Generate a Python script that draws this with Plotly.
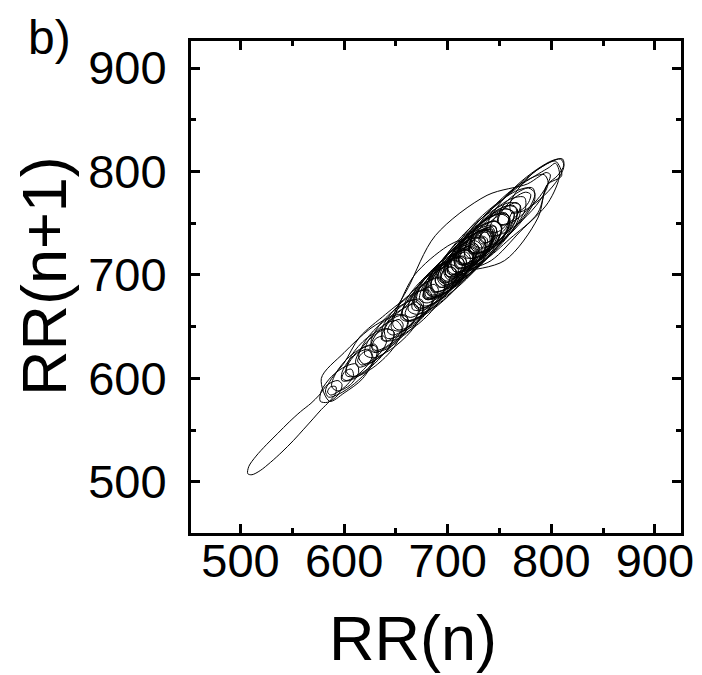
import plotly.graph_objects as go

# RR interval series (ms), read/estimated from the Poincare (lag) plot
rr = [
    705, 723, 735, 736, 725, 708, 690, 678, 677, 688,
    707, 726, 740, 742, 732, 714, 695, 682, 680, 690,
    709, 729, 744, 748, 740, 722, 702, 688, 684, 693,
    712, 734, 752, 760, 755, 738, 716, 698, 691, 697,
    716, 740, 760, 770, 767, 751, 729, 709, 700, 705,
    722, 746, 768, 782, 784, 773, 754, 734, 722, 723,
    737, 758, 779, 793, 797, 789, 772, 753, 740, 738,
    748, 766, 786, 802, 811, 812, 804, 789, 773, 762,
    760, 768, 783, 799, 809, 812, 806,
    796, 787, 760, 735, 714, 705,
    700, 702, 712, 724, 729, 724, 710, 694, 683, 681,
    689, 704, 719, 727, 724, 711, 694, 680, 673, 676,
    689, 706, 720, 725, 718, 702, 684, 671, 667, 673,
    690, 708, 718, 727, 730, 725, 716, 710, 712, 720,
    730, 736, 734, 727, 721, 722, 729, 739, 746, 747,
    741, 733, 730, 734, 743, 753, 759, 757, 749, 742,
    741, 747, 757, 766, 770, 767, 758, 750, 749, 755,
    765, 775, 780, 778, 770, 762, 760,
    756, 745, 735, 731, 735, 742, 744, 738, 727, 716,
    711, 714, 722, 726, 721, 710, 699, 693, 696, 704,
    708, 703, 692, 681, 676, 679, 687, 691, 686, 675,
    664, 659, 662, 670, 674, 669, 658, 647, 642, 645,
    653, 657, 652, 641, 631, 627, 630, 638, 641, 636,
    626, 617, 613, 617, 624, 627, 621, 611, 602, 598,
    601, 607, 609, 603, 594, 587, 584, 587, 592, 592,
    586, 578,
    570, 561, 551, 540, 529, 519, 511, 507, 508, 515,
    525, 536, 547, 558, 568, 576,
    584, 594, 598, 594, 584, 577, 578, 588, 602, 612,
    614, 606, 594, 588, 592, 605, 621, 631, 631, 621,
    608, 602, 607, 622, 639, 648, 645, 632, 619, 614,
    621, 637, 654, 662, 657, 642, 629, 626, 636, 654,
    670, 676, 668, 651, 638, 637, 649, 667, 682, 685,
    674, 657, 646, 648, 662,
    688, 738, 777, 788, 795, 799, 797, 789, 776, 762,
    751, 748, 752,
    765, 778, 784, 779, 765, 746, 728, 717, 717, 727,
    744, 762, 774, 775, 764, 745, 725, 711, 707, 714,
    731, 750, 764, 767, 757, 738, 717, 702, 697, 704,
    721, 741, 756, 760, 751, 732, 710, 694, 688, 694,
    711, 731, 747, 752, 744, 725, 703, 686, 679, 684,
    700, 720, 737, 743, 736, 718, 696, 678, 670, 674,
    690, 710, 727, 733, 727, 709, 688, 670, 662, 666,
    681, 701, 718, 724, 718, 701, 680, 663, 656, 660,
    676, 696, 712, 717, 709,
    712, 730, 752, 772, 788, 798, 804, 808, 797, 770,
    742, 714, 703, 698, 701,
    710, 722, 728, 724, 712, 697, 686, 684, 692, 706,
    719, 725, 719, 704, 688, 678, 678, 688, 703, 714,
    716, 707, 690, 675, 668, 671, 684, 699, 708, 705,
    691, 673, 660, 656, 663, 678, 692, 697, 690, 672,
    653, 641, 639, 648, 663, 675, 676, 664, 645, 628,
    620, 623, 636, 650, 656, 648, 630, 612, 602, 603,
    612, 624, 628, 618, 600, 586, 578, 600, 625, 648,
    662, 672, 690, 706, 714, 710, 700, 694, 697, 707,
    718, 722, 716, 705, 698, 700,
    712, 730, 752, 772, 790, 804, 810, 796, 787, 755,
    714, 703, 700,
    712, 726, 731, 724, 709, 695, 690, 697, 713, 729,
    736, 729, 713, 700, 696, 704, 721, 737, 744, 737,
    721, 707, 703, 711, 728, 745, 752, 746, 730, 715,
    710, 717, 734, 751, 759, 754, 738, 722, 716, 722,
    738, 755, 764, 760, 745, 729, 722, 727, 742, 758,
    767, 764, 750, 734, 726, 729, 742, 756, 764, 760,
    747, 731, 721, 721, 731, 745, 752, 748, 734, 718,
    708, 707, 716, 730, 738, 735, 721, 705, 694, 693,
    702, 716, 724, 721, 707, 690, 679, 679, 689, 703,
    710, 706, 692, 676, 666, 667, 678, 692, 698, 693,
    678, 663, 655, 658, 670, 683, 688, 681, 666, 652,
    647, 652, 668, 700, 728, 740, 744, 738, 725, 713,
    710, 717, 731, 743, 746, 738, 723, 710, 706, 714,
    729, 742, 745, 736, 720, 707, 703, 711, 726, 738,
    741, 733, 717, 704, 700,
    690, 676, 662, 650, 641, 636, 638, 646, 658, 668,
    672, 667, 655, 641, 630, 625, 628, 638, 651, 660,
    661, 652, 638, 624, 614, 611, 616, 628, 641, 648,
    645, 633, 618, 605, 598, 598, 606, 619, 630, 633,
    625, 610, 595, 585, 582, 588, 600, 615, 640, 662,
    680, 698, 712, 718, 714, 703, 692, 688, 694, 706,
    716, 718, 710, 697, 686, 683, 690, 703, 713,
]

x_ticks = [500, 600, 700, 800, 900]
y_ticks = [500, 600, 700, 800, 900]
x_range = [452.2, 925.2]
y_range = [450.7, 926.1]

x_vals = rr[:-1]
y_vals = rr[1:]

FONT = "Liberation Sans, Arial, sans-serif"

fig = go.Figure()
fig.add_trace(go.Scatter(
    x=x_vals, y=y_vals, mode="lines",
    line=dict(color="black", width=1.0, shape="spline", smoothing=0.9),
    showlegend=False, hoverinfo="skip",
))

axis_common = dict(
    showline=True, linewidth=3, linecolor="black", mirror="allticks",
    ticks="inside", ticklen=9, tickwidth=3, tickcolor="black",
    showgrid=False, zeroline=False,
    tickfont=dict(family=FONT, size=47, color="black"),
    minor=dict(ticks="inside", ticklen=5, tickwidth=3, tickcolor="black",
               dtick=50, tick0=0, showgrid=False),
)

fig.update_xaxes(range=x_range, tickvals=x_ticks, ticktext=[str(v) for v in x_ticks],
                 ticklabelstandoff=-15, **axis_common)
fig.update_yaxes(range=y_range, tickvals=y_ticks, ticktext=[str(v) for v in y_ticks],
                 ticklabelstandoff=12, **axis_common)

# page body has an 8px margin: figure is 694x667 placed at (8, 8)
fig.update_layout(
    width=694, height=667,
    margin=dict(l=183, r=21, t=33, b=142, autoexpand=False),
    plot_bgcolor="white", paper_bgcolor="white",
    font=dict(family=FONT, color="black"),
    annotations=[
        dict(text="RR(n)", xref="paper", yref="paper", x=(413 - 191) / 490,
             y=(533 - 638) / 492, xanchor="center", yanchor="middle",
             showarrow=False, font=dict(family=FONT, size=63, color="black")),
        dict(text="RR(n+1)", xref="paper", yref="paper", x=(44 - 191) / 490,
             y=(533 - 276) / 492, xanchor="center", yanchor="middle", textangle=-90,
             showarrow=False, font=dict(family=FONT, size=63, color="black")),
        dict(text="b)", xref="paper", yref="paper", x=(49 - 191) / 490,
             y=(533 - 37) / 492, xanchor="center", yanchor="middle",
             showarrow=False, font=dict(family=FONT, size=48, color="black")),
    ],
)

fig.write_html("out.html")
